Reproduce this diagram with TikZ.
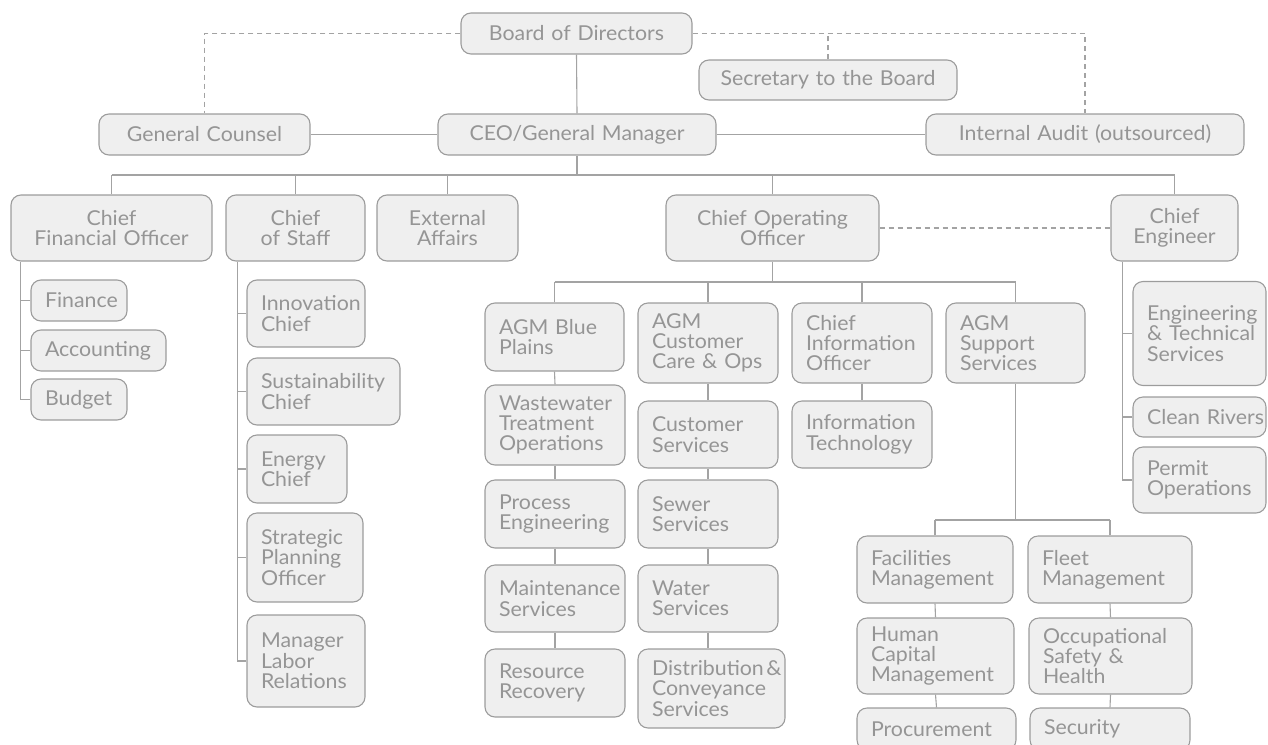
\documentclass[tikz,border=0pt]{standalone}
\usepackage{fontspec}
\setmainfont{Lato}[FakeStretch=1.04]
\usetikzlibrary{calc}
\definecolor{boxfill}{HTML}{EFEFEF}
\definecolor{boxline}{HTML}{9C9C9C}
\definecolor{conn}{HTML}{A3A3A3}
\definecolor{txt}{HTML}{959595}
\tikzset{
  base/.style={draw=boxline, fill=boxfill, line width=1.1pt, rounded corners=10pt,
    text=txt, inner xsep=0pt, inner ysep=0pt, font=\fontsize{20.5}{20.3}\selectfont},
  cb/.code 2 args={\pgfmathsetmacro\tw{#1-20}\edef\tmp{\noexpand\pgfkeysalso{base, align=center,
    minimum width=#1pt, minimum height=#2pt, text width=\tw pt}}\tmp},
  lb/.code 2 args={\pgfmathsetmacro\tw{#1-28}\edef\tmp{\noexpand\pgfkeysalso{base, align=left,
    minimum width=#1pt, minimum height=#2pt, text width=\tw pt}}\tmp},
  link/.style={draw=conn, line width=1.1pt},
  dlink/.style={draw=conn, line width=1.1pt, dash pattern=on 5pt off 4pt},
}
\begin{document}
\begin{tikzpicture}[x=1pt, y=-1pt]
\useasboundingbox (0,0) rectangle (1268,744);
\clip (0,0) rectangle (1268,744);
% top level
\node[cb={231}{41}] (board) at (576.5,33.5) {Board of Directors};
\node[cb={258}{40}] (sec) at (828,80) {Secretary to the Board};
\node[cb={211}{41}] (gc) at (204.5,134.5) {General Counsel};
\node[cb={278}{41}] (ceo) at (577,134.5) {CEO/General Manager};
\node[cb={318}{41}] (ia) at (1085,134.5) {Internal Audit (outsourced)};
% second row
\node[cb={201}{66}] (cfo) at (111.5,228) {Chief\\Financial Officer};
\node[cb={139}{66}] (cos) at (295.5,228) {Chief\\of Staff};
\node[cb={141}{66}] (ext) at (447.5,228) {External\\Affairs};
\node[cb={213}{66}] (coo) at (772.5,228) {Chief Operating\\Officer};
\node[cb={127}{66}] (ce) at (1174.5,228) {Chief\\Engineer};
% CFO
\node[lb={96}{41}] (fin) at (79,300.5) {Finance};
\node[lb={135}{41}] (acc) at (98.5,350.5) {Accounting};
\node[lb={96}{41}] (bud) at (79,399.5) {Budget};
% Chief of Staff
\node[lb={118}{67}] (inn) at (306,313.5) {Innovation\\Chief};
\node[lb={153}{67}] (sus) at (323.5,391.5) {Sustainability\\Chief};
\node[lb={100}{68}] (ene) at (297,469) {Energy\\Chief};
\node[lb={116}{89}] (spo) at (305,557.5) {Strategic\\Planning\\Officer};
\node[lb={118}{92}] (mlr) at (306,661) {Manager\\Labor\\Relations};
% COO columns
\node[lb={139}{68}] (bp) at (554.5,337) {AGM Blue\\Plains};
\node[lb={140}{80}] (wto) at (555,425) {Wastewater\\Treatment\\Operations};
\node[lb={140}{68}] (pe) at (555,514) {Process\\Engineering};
\node[lb={140}{67}] (ms) at (555,598.5) {Maintenance\\Services};
\node[lb={140}{68}] (rr) at (555,683) {Resource\\Recovery};
\node[lb={140}{80}] (cc) at (708,343) {AGM\\Customer\\Care \& Ops};
\node[lb={140}{67}] (cs) at (708,434.5) {Customer\\Services};
\node[lb={140}{68}] (ss) at (708,514) {Sewer\\Services};
\node[lb={140}{67}] (ws) at (708,598.5) {Water\\Services};
\node[lb={147}{79}] (dc) at (711.5,688.5) {\mbox{Distribution\hspace{0.12em}\&}\\Conveyance\\Services};
\node[lb={140}{80}] (cio) at (862,343) {Chief\\Information\\Officer};
\node[lb={140}{67}] (it) at (862,434.5) {Information\\Technology};
\node[lb={139}{80}] (ags) at (1015.5,343) {AGM\\Support\\Services};
\node[lb={156}{67}] (fm) at (935,569.5) {Facilities\\Management};
\node[lb={157}{76}] (hcm) at (935.5,656) {Human\\Capital\\Management};
\node[lb={159}{42}] (proc) at (936.5,729) {Procurement};
\node[lb={164}{67}] (flm) at (1110,569.5) {Fleet\\Management};
\node[lb={163}{76}] (osh) at (1110.5,656) {Occupational\\Safety \&\\Health};
\node[lb={160}{42}] (secu) at (1110,729) {Security};
% Chief Engineer
\node[lb={133}{104}] (ets) at (1199.5,333.5) {Engineering\\\mbox{\& Technical}\\Services};
\node[lb={133}{40}] (cr) at (1199.5,417) {\mbox{Clean Rivers}};
\node[lb={133}{66}] (po) at (1199.5,480) {Permit\\Operations};
% dashed links
\draw[dlink] (board.west) -| (gc.north);
\draw[dlink] (board.east) -| (ia.north);
\draw[dlink] (sec.north) -- (sec.north |- board.east);
\draw[dlink] (coo.east) -- (ce.west);
% solid links top
\draw[link] (board.south) -- (ceo.north);
\draw[link] (gc.east) -- (ceo.west);
\draw[link] (ceo.east) -- (ia.west);
% CEO bus
\coordinate (bus) at (0,175);
\draw[link] (ceo.south) -- (ceo.south |- bus);
\draw[link] (cfo.north |- bus) -- (ce.north |- bus);
\foreach \n in {cfo,cos,ext,coo,ce} \draw[link] (\n.north) -- (\n.north |- bus);
% CFO spine
\coordinate (cfospine) at ($(cfo.south west)+(10,0)$);
\draw[link] (cfospine) |- (bud.west);
\foreach \n in {fin,acc} \draw[link] (\n.west) -- (\n.west -| cfospine);
% CoS spine
\coordinate (cosspine) at ($(cos.south west)+(12,0)$);
\draw[link] (cosspine) |- (mlr.west);
\foreach \n in {inn,sus,ene,spo} \draw[link] (\n.west) -- (\n.west -| cosspine);
% CE spine
\coordinate (cespine) at ($(ce.south west)+(12,0)$);
\draw[link] (cespine) |- (po.west);
\foreach \n in {ets,cr} \draw[link] (\n.west) -- (\n.west -| cespine);
% COO bus
\coordinate (cbus) at (0,282);
\draw[link] (coo.south) -- (coo.south |- cbus);
\draw[link] (bp.north |- cbus) -- (ags.north |- cbus);
\foreach \n in {bp,cc,cio,ags} \draw[link] (\n.north) -- (\n.north |- cbus);
% columns
\draw[link] (bp.south) -- (wto.north);
\draw[link] (wto.south) -- (pe.north);
\draw[link] (pe.south) -- (ms.north);
\draw[link] (ms.south) -- (rr.north);
\draw[link] (cc.south) -- (cs.north);
\draw[link] (cs.south) -- (ss.north);
\draw[link] (ss.south) -- (ws.north);
\draw[link] (ws.south) -- (ws.south |- dc.north);
\draw[link] (cio.south) -- (it.north);
% support services
\coordinate (sbus) at (0,520);
\draw[link] (ags.south) -- (ags.south |- sbus);
\draw[link] (fm.north |- sbus) -- (flm.north |- sbus);
\foreach \n in {fm,flm} \draw[link] (\n.north) -- (\n.north |- sbus);
\draw[link] (fm.south) -- (hcm.north);
\draw[link] (hcm.south) -- (proc.north);
\draw[link] (flm.south) -- (osh.north);
\draw[link] (osh.south) -- (secu.north);
\end{tikzpicture}
\end{document}
